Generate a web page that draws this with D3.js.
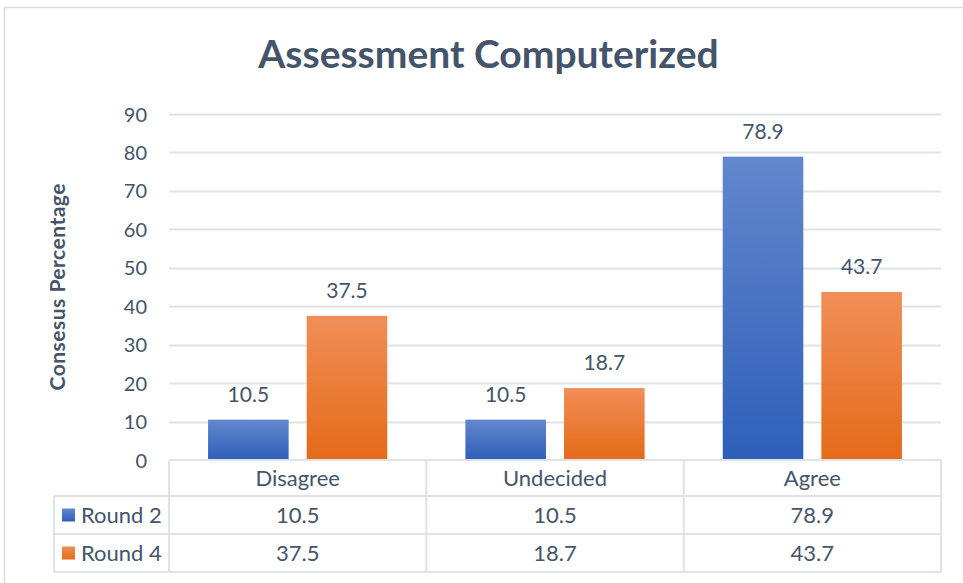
<!DOCTYPE html>
<html><head><meta charset="utf-8">
<script src="https://cdn.jsdelivr.net/npm/d3@7"></script>
<style>
html,body{margin:0;padding:0;background:#fff;}
svg{display:block;}
</style></head>
<body><svg id="chart" width="963" height="583"></svg>
<script>
const title = "Assessment Computerized";
const yLabel = "Consesus Percentage";
const categories = ["Disagree", "Undecided", "Agree"];
const seriesNames = ["Round 2", "Round 4"];
const round2 = [10.5, 10.5, 78.9];
const round4 = [37.5, 18.7, 43.7];
const yTicks = [0, 10, 20, 30, 40, 50, 60, 70, 80, 90];

(function () {
const series = [
  {name: seriesNames[0], values: round2, top: "#6287cd", bottom: "#2e5fb9"},
  {name: seriesNames[1], values: round4, top: "#f18e58", bottom: "#e46b18"}
];

const font = "Lato, 'Open Sans', sans-serif";
const textColor = "#44546a";
const lineColor = "#dfe3e8";

const svg = d3.select("#chart");
const W = 963, H = 583;
const pLeft = 169, pRight = 941, pTop = 114, pBottom = 460;

const defs = svg.append("defs");
series.forEach((s, i) => {
  const g = defs.append("linearGradient").attr("id", "grad" + i)
    .attr("x1", 0).attr("y1", 0).attr("x2", 0).attr("y2", 1);
  g.append("stop").attr("offset", "0%").attr("stop-color", s.top);
  g.append("stop").attr("offset", "100%").attr("stop-color", s.bottom);
});

// outer frame
svg.append("path").attr("d", `M4.5,${H+2} V7.5 H${W+2}`)
  .attr("fill", "none").attr("stroke", "#d9dde2").attr("stroke-width", 1.5);

// title
svg.append("text").attr("x", 488.5).attr("y", 68).attr("text-anchor", "middle")
  .attr("font-family", font).attr("font-weight", "bold").attr("font-size", 39)
  .attr("fill", textColor).text(title);

const y = d3.scaleLinear().domain([0, 90]).range([pBottom, pTop]);
const x0 = d3.scaleBand().domain(categories).range([pLeft, pRight]);
const x1 = d3.scaleBand().domain(seriesNames).range([0, x0.bandwidth()])
  .paddingInner(0.183).paddingOuter(0.396);

// gridlines
svg.append("g").selectAll("line").data(yTicks.filter(t => t > 0)).join("line")
  .attr("x1", pLeft).attr("x2", pRight)
  .attr("y1", d => Math.round(y(d)) + 0.5).attr("y2", d => Math.round(y(d)) + 0.5)
  .attr("stroke", lineColor).attr("stroke-width", 2);

// y axis tick labels
const yAxis = d3.axisLeft(y).tickValues(yTicks).tickSize(0).tickPadding(0);
const ya = svg.append("g").attr("transform", `translate(147,0)`).call(yAxis);
ya.select(".domain").remove();
ya.selectAll("text").attr("font-family", font).attr("font-size", 20)
  .attr("fill", textColor).attr("dy", "0.35em");

// y label
svg.append("text").attr("transform", `translate(65,287) rotate(-90)`)
  .attr("text-anchor", "middle").attr("font-family", font).attr("font-weight", "bold")
  .attr("font-size", 21).attr("fill", textColor)
  .attr("textLength", 207).attr("lengthAdjust", "spacing").text(yLabel);

// bars
series.forEach((s, i) => {
  const g = svg.append("g");
  g.selectAll("rect").data(s.values).join("rect")
    .attr("x", (d, j) => x0(categories[j]) + x1(s.name))
    .attr("width", x1.bandwidth())
    .attr("y", d => y(d)).attr("height", d => pBottom - y(d))
    .attr("fill", `url(#grad${i})`);
  g.selectAll("text").data(s.values).join("text")
    .attr("x", (d, j) => x0(categories[j]) + x1(s.name) + x1.bandwidth() / 2)
    .attr("y", d => y(d) - 18)
    .attr("text-anchor", "middle").attr("font-family", font).attr("font-size", 21)
    .attr("fill", textColor).text(d => d);
});

// data table
const rowY = [460, 496, 534, 572];
const tableLeft = 54;
const tg = svg.append("g").attr("stroke", lineColor).attr("stroke-width", 2).attr("fill", "none");
tg.append("line").attr("x1", pLeft).attr("x2", pRight).attr("y1", rowY[0]).attr("y2", rowY[0]);
for (let r = 1; r < 4; r++) {
  tg.append("line").attr("x1", tableLeft).attr("x2", pRight).attr("y1", rowY[r]).attr("y2", rowY[r]);
}
tg.append("line").attr("x1", tableLeft).attr("x2", tableLeft).attr("y1", rowY[1]).attr("y2", rowY[3]);
const vx = [pLeft, ...categories.map(c => x0(c) + x0.bandwidth())];
vx.forEach(v => tg.append("line").attr("x1", v).attr("x2", v).attr("y1", rowY[0]).attr("y2", rowY[3]));

const tfs = 22;
// header
svg.append("g").selectAll("text").data(categories).join("text")
  .attr("x", d => x0(d) + x0.bandwidth() / 2).attr("y", (rowY[0] + rowY[1]) / 2)
  .attr("dy", "0.35em").attr("text-anchor", "middle")
  .attr("font-family", font).attr("font-size", tfs).attr("fill", textColor).text(d => d);

series.forEach((s, i) => {
  const cy = (rowY[i + 1] + rowY[i + 2]) / 2;
  svg.append("rect").attr("x", 62).attr("y", cy - 6.5).attr("width", 13).attr("height", 13)
    .attr("fill", `url(#grad${i})`);
  svg.append("text").attr("x", 81).attr("y", cy).attr("dy", "0.35em")
    .attr("font-family", font).attr("font-size", tfs).attr("fill", textColor).text(s.name);
  svg.append("g").selectAll("text").data(s.values).join("text")
    .attr("x", (d, j) => x0(categories[j]) + x0.bandwidth() / 2).attr("y", cy)
    .attr("dy", "0.35em").attr("text-anchor", "middle")
    .attr("font-family", font).attr("font-size", tfs).attr("fill", textColor).text(d => d);
});
})();
</script></body></html>
